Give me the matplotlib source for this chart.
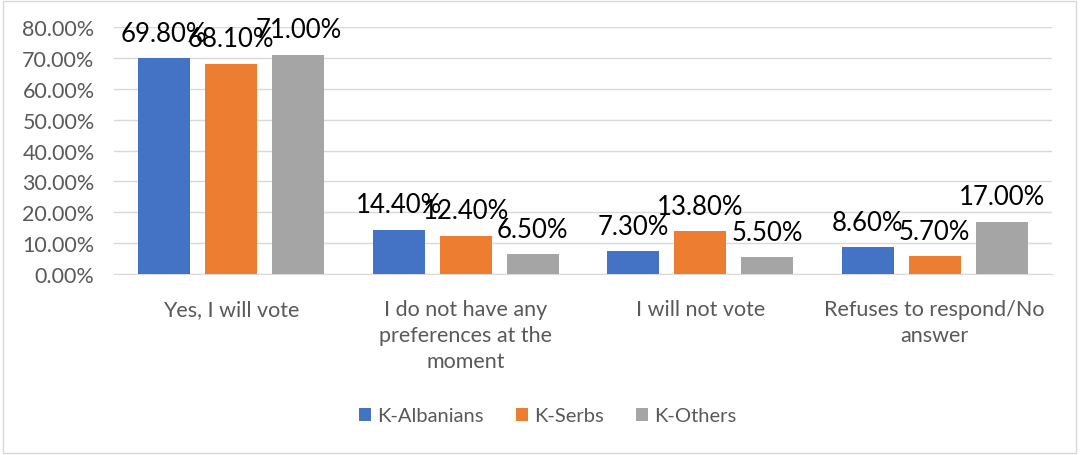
import numpy as np
import matplotlib
matplotlib.use("Agg")
import matplotlib.pyplot as plt
from matplotlib.patches import Rectangle

categories = ["Yes, I will vote", "I do not have any\npreferences at the\nmoment",
              "I will not vote", "Refuses to respond/No\nanswer"]
series = ["K-Albanians", "K-Serbs", "K-Others"]
albanians = [69.8, 14.4, 7.3, 8.6]
serbs = [68.1, 12.4, 13.8, 5.7]
others = [71.0, 6.5, 5.5, 17.0]
colors = ["#4472C4", "#ED7D31", "#A5A5A5"]

plt.rcParams["font.family"] = ["Lato", "DejaVu Sans"]

fig = plt.figure(figsize=(10.81, 4.56), dpi=100)
ax = fig.add_axes([114 / 1081, 1 - 275 / 456, (1052 - 114) / 1081, (275 - 28) / 456])
fig.patches.append(Rectangle((3 / 1081, 2 / 456), 1073 / 1081, 452 / 456,
                             transform=fig.transFigure, fill=False,
                             edgecolor="#d9d9d9", lw=1))

x = np.arange(len(categories))
w = 0.222
step = 0.286
for i, (name, vals) in enumerate(zip(series, [albanians, serbs, others])):
    pos = x + (i - 1) * step
    ax.bar(pos, vals, w, color=colors[i], label=name, zorder=3)
    for p, v in zip(pos, vals):
        # labels sit ~17px above the bar top, like the Excel original
        ax.annotate(f"{v:.2f}%", (p, v), xytext=(0, 12.5), textcoords="offset points",
                    ha="center", va="baseline", fontsize=18.5, color="black", zorder=4)

ax.set_xlim(-0.5, len(categories) - 0.5)
ax.set_ylim(0, 80)
ax.set_yticks(np.arange(0, 81, 10))
ax.set_yticklabels([f"{t:.2f}%" for t in np.arange(0, 81, 10)])
ax.set_xticks(x)
ax.set_xticklabels(categories, linespacing=1.37)
ax.tick_params(axis="both", length=0, labelcolor="#595959")
ax.tick_params(axis="y", labelsize=15.5, pad=14)
ax.tick_params(axis="x", labelsize=15.5, pad=18)
ax.grid(axis="y", color="#d9d9d9", lw=1, zorder=0)
for s in ["top", "right", "left"]:
    ax.spines[s].set_visible(False)
ax.spines["bottom"].set_color("#d9d9d9")

ax.legend(loc="center", bbox_to_anchor=(548 / 1081, 1 - 417 / 456),
          bbox_transform=fig.transFigure, ncol=3, frameon=False,
          fontsize=14.5, labelcolor="#595959", handlelength=0.6, handleheight=0.6,
          handletextpad=0.3, columnspacing=1.6)

fig.savefig("out.png", dpi=100)
